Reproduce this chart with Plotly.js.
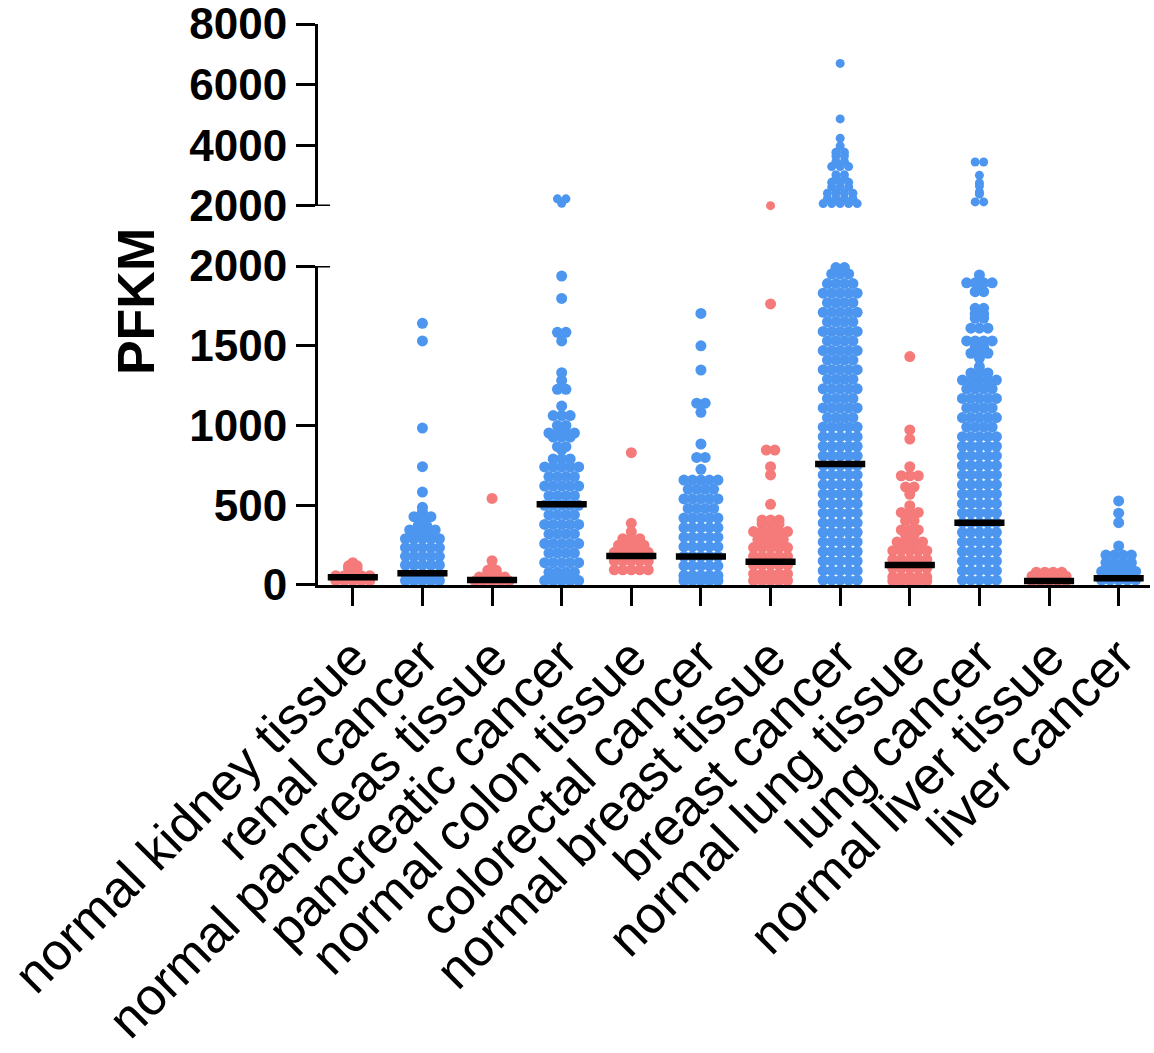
<!DOCTYPE html>
<html>
<head>
<meta charset="utf-8">
<script src="https://cdn.plot.ly/plotly-3.0.1.min.js"></script>
<style>
  html, body { margin: 0; padding: 0; background: #ffffff; }
  #chart { width: 1154px; height: 1053px; }
</style>
</head>
<body>
<div id="chart"></div>
<script>
// ---- Data ----
const categories = [
  "normal kidney tissue", "renal cancer", "normal pancreas tissue", "pancreatic cancer",
  "normal colon tissue", "colorectal cancer", "normal breast tissue", "breast cancer",
  "normal lung tissue", "lung cancer", "normal liver tissue", "liver cancer"
];
const tissueType = ["normal","cancer","normal","cancer","normal","cancer","normal","cancer","normal","cancer","normal","cancer"];

// Each group: value levels of the dot rows and how many dots sit in each row
const normalKidneyValues = [140, 120, 105, 85, 58, 28];
const normalKidneyCounts = [1, 2, 2, 1, 5, 5];

const renalCancerValues = [1641, 1530, 984, 742, 583, 487, 460, 428, 400, 372, 345, 290, 235, 180, 125, 70, 28];
const renalCancerCounts = [1, 1, 1, 1, 1, 1, 1, 3, 1, 2, 4, 5, 5, 5, 5, 5, 5];

const normalPancreasValues = [543, 152, 107, 92, 75, 50, 25];
const normalPancreasCounts = [1, 1, 1, 2, 2, 4, 5];

const pancreaticCancerValues = [2235, 2090, 1937, 1797, 1584, 1530, 1331, 1283, 1227, 1122, 1062, 1000, 953, 928, 867, 846, 790, 740, 680, 620, 560, 500, 440, 380, 320, 260, 200, 140, 80, 28];
const pancreaticCancerCounts = [2, 1, 1, 1, 2, 1, 1, 1, 2, 1, 3, 2, 4, 3, 2, 1, 3, 5, 4, 5, 4, 5, 4, 5, 4, 5, 4, 5, 4, 5];

const normalColonValues = [830, 387, 334, 290, 250, 205, 150, 95];
const normalColonCounts = [1, 1, 1, 3, 4, 5, 5, 5];

const colorectalCancerValues = [1703, 1500, 1348, 1140, 1083, 884, 800, 725, 658, 600, 540, 480, 420, 360, 300, 240, 180, 120, 60, 28];
const colorectalCancerCounts = [1, 1, 1, 2, 1, 1, 2, 1, 5, 4, 5, 4, 5, 5, 5, 5, 5, 5, 5, 5];

const normalBreastValues = [2010, 1762, 846, 742, 690, 506, 407, 382, 335, 285, 235, 180, 125, 70, 28];
const normalBreastCounts = [1, 1, 2, 1, 1, 1, 3, 3, 5, 4, 5, 5, 5, 5, 5];

const breastCancerValues = [6700, 4870, 4230, 3980, 3770, 3650, 3470, 3300, 3030, 2900, 2780, 2630, 2420, 2250, 2080,
  1990, 1950, 1890, 1830, 1770, 1710, 1650, 1590, 1530, 1470, 1410, 1350, 1290, 1230, 1170, 1110, 1050, 990, 930, 870,
  810, 750, 690, 630, 570, 510, 450, 390, 330, 270, 210, 150, 90, 30];
const breastCancerCounts = [1, 1, 1, 1, 2, 2, 2, 3, 2, 2, 3, 3, 4, 4, 5,
  2, 3, 4, 5, 4, 5, 4, 5, 4, 5, 4, 5, 4, 5, 4, 5, 4, 5, 5, 5,
  5, 5, 5, 5, 5, 5, 5, 5, 5, 5, 5, 5, 5, 5];

const normalLungValues = [1432, 972, 915, 742, 685, 615, 569, 497, 455, 403, 345, 313, 270, 215, 160, 105, 50, 25];
const normalLungCounts = [1, 1, 1, 1, 3, 2, 1, 1, 3, 2, 3, 2, 4, 5, 5, 5, 5, 5];

const lungCancerValues = [3450, 3010, 2760, 2660, 2460, 2390, 2135,
  1944, 1895, 1871, 1839, 1735, 1700, 1672, 1610, 1530, 1490, 1453, 1421, 1369, 1330, 1285, 1230, 1170, 1110, 1050,
  990, 930, 870, 810, 750, 690, 630, 570, 510, 450, 390, 330, 270, 210, 150, 90, 30];
const lungCancerCounts = [2, 1, 1, 1, 1, 1, 2,
  1, 4, 1, 2, 2, 2, 2, 3, 4, 2, 3, 1, 1, 3, 5, 4, 5, 4, 5,
  4, 5, 5, 5, 5, 5, 5, 5, 5, 5, 5, 5, 5, 5, 5, 5, 5];

const normalLiverValues = [80, 55, 28];
const normalLiverCounts = [4, 5, 5];

const liverCancerValues = [527, 450, 391, 245, 188, 140, 85, 30];
const liverCancerCounts = [1, 1, 1, 1, 4, 4, 5, 5];

const medians = [48, 73, 31, 506, 182, 178, 146, 759, 125, 391, 25, 42];

const axisBreak = 2000;
const lowerTicks = [0, 500, 1000, 1500, 2000];
const upperTicks = [2000, 4000, 6000, 8000];

// ---- Build traces ----
const groupValues = [normalKidneyValues, renalCancerValues, normalPancreasValues, pancreaticCancerValues,
  normalColonValues, colorectalCancerValues, normalBreastValues, breastCancerValues,
  normalLungValues, lungCancerValues, normalLiverValues, liverCancerValues];
const groupCounts = [normalKidneyCounts, renalCancerCounts, normalPancreasCounts, pancreaticCancerCounts,
  normalColonCounts, colorectalCancerCounts, normalBreastCounts, breastCancerCounts,
  normalLungCounts, lungCancerCounts, normalLiverCounts, liverCancerCounts];

const colorFor = { normal: "rgb(245,122,122)", cancer: "rgb(76,150,240)" };
const dotStep = 0.122;   // horizontal spacing between dots of one row (x units)
const halfMedian = 0.36; // half-length of median bar (x units)

const traces = [];
groupValues.forEach((vals, gi) => {
  const cnts = groupCounts[gi];
  const lo = { x: [], y: [] }, hi = { x: [], y: [] };
  vals.forEach((v, ri) => {
    const c = cnts[ri];
    for (let k = 0; k < c; k++) {
      const xo = gi + (k - (c - 1) / 2) * dotStep;
      const target = v > axisBreak ? hi : lo;
      target.x.push(xo); target.y.push(v);
    }
  });
  const mk = { color: colorFor[tissueType[gi]], size: 11, line: { width: 0 } };
  traces.push({ type: "scatter", mode: "markers", x: lo.x, y: lo.y, xaxis: "x", yaxis: "y",
    marker: mk, cliponaxis: false, showlegend: false, hoverinfo: "y" });
  if (hi.x.length) {
    traces.push({ type: "scatter", mode: "markers", x: hi.x, y: hi.y, xaxis: "x", yaxis: "y2",
      marker: Object.assign({}, mk, { size: 9 }), cliponaxis: false, showlegend: false, hoverinfo: "y" });
  }
});
medians.forEach((m, gi) => {
  traces.push({ type: "scatter", mode: "lines", x: [gi - halfMedian, gi + halfMedian], y: [m, m],
    xaxis: "x", yaxis: "y", line: { color: "#000", width: 6.5 }, cliponaxis: false,
    showlegend: false, hoverinfo: "skip" });
});

const FONT = "Liberation Sans, Arial, sans-serif";
const yCommon = {
  showline: true, linecolor: "#000", linewidth: 3,
  ticks: "outside", ticklen: 19, tickwidth: 3, tickcolor: "#000",
  showgrid: false, zeroline: false, ticklabeloverflow: "allow",
  tickfont: { family: FONT, size: 44, color: "#000", weight: "bold" },
  anchor: "x", fixedrange: true
};

const layout = {
  width: 1154, height: 1053,
  margin: { l: 318, r: 4, t: 24, b: 468 },
  paper_bgcolor: "#fff", plot_bgcolor: "#fff",
  showlegend: false,
  xaxis: {
    range: [-0.5, 11.45], tickmode: "array",
    tickvals: categories.map((c, i) => i), ticktext: categories,
    tickangle: -45, showline: true, linecolor: "#000", linewidth: 3,
    ticks: "outside", ticklen: 18, tickwidth: 3, tickcolor: "#000",
    showgrid: false, zeroline: false, anchor: "y", ticklabeloverflow: "allow",
    tickfont: { family: FONT, size: 52, color: "#000" }, fixedrange: true
  },
  yaxis: Object.assign({}, yCommon, {
    domain: [0, 0.5686], range: [0, 2000], tickmode: "array",
    tickvals: lowerTicks, ticktext: lowerTicks.map(String)
  }),
  yaxis2: Object.assign({}, yCommon, {
    domain: [0.6756, 1], range: [2000, 8000], tickmode: "array",
    tickvals: upperTicks, ticktext: upperTicks.map(String)
  }),
  shapes: [
    { type: "line", xref: "paper", yref: "y", x0: 0, x1: 0.0145, y0: axisBreak, y1: axisBreak, line: { color: "#000", width: 3 } },
    { type: "line", xref: "paper", yref: "y2", x0: 0, x1: 0.0145, y0: axisBreak, y1: axisBreak, line: { color: "#000", width: 3 } }
  ],
  annotations: [
    { text: "PFKM", xref: "paper", yref: "paper", x: -0.2188, y: 0.506,
      xanchor: "center", yanchor: "middle", textangle: -90, showarrow: false,
      font: { family: FONT, size: 52, color: "#000", weight: "bold" } }
  ]
};

Plotly.newPlot("chart", traces, layout, { displayModeBar: false, responsive: false });
</script>
</body>
</html>
